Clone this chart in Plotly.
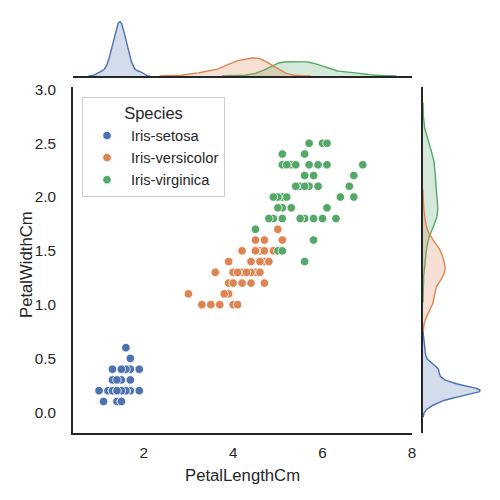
import numpy as np
import plotly.graph_objects as go

species = ["Iris-setosa", "Iris-versicolor", "Iris-virginica"]
colors = ["#4C72B0", "#DD8452", "#55A868"]
fills = ["rgba(76,114,176,0.25)", "rgba(221,132,82,0.25)", "rgba(85,168,104,0.25)"]

setosa_pl = [1.4,1.4,1.3,1.5,1.4,1.7,1.4,1.5,1.4,1.5,1.5,1.6,1.4,1.1,1.2,1.5,1.3,1.4,1.7,1.5,
             1.7,1.5,1.0,1.7,1.9,1.6,1.6,1.5,1.4,1.6,1.6,1.5,1.5,1.4,1.5,1.2,1.3,1.5,1.3,1.5,
             1.3,1.3,1.3,1.6,1.9,1.4,1.6,1.4,1.5,1.4]
setosa_pw = [0.2,0.2,0.2,0.2,0.2,0.4,0.3,0.2,0.2,0.1,0.2,0.2,0.1,0.1,0.2,0.4,0.4,0.3,0.3,0.3,
             0.2,0.4,0.2,0.5,0.2,0.2,0.4,0.2,0.2,0.2,0.2,0.4,0.1,0.2,0.1,0.2,0.2,0.1,0.2,0.2,
             0.3,0.3,0.2,0.6,0.4,0.3,0.2,0.2,0.2,0.2]
versicolor_pl = [4.7,4.5,4.9,4.0,4.6,4.5,4.7,3.3,4.6,3.9,3.5,4.2,4.0,4.7,3.6,4.4,4.5,4.1,4.5,3.9,
                 4.8,4.0,4.9,4.7,4.3,4.4,4.8,5.0,4.5,3.5,3.8,3.7,3.9,5.1,4.5,4.5,4.7,4.4,4.1,4.0,
                 4.4,4.6,4.0,3.3,4.2,4.2,4.2,4.3,3.0,4.1]
versicolor_pw = [1.4,1.5,1.5,1.3,1.5,1.3,1.6,1.0,1.3,1.4,1.0,1.5,1.0,1.4,1.3,1.4,1.5,1.0,1.5,1.1,
                 1.8,1.3,1.5,1.2,1.3,1.4,1.4,1.7,1.5,1.0,1.1,1.0,1.2,1.6,1.5,1.6,1.5,1.3,1.3,1.3,
                 1.2,1.4,1.2,1.0,1.3,1.2,1.3,1.3,1.1,1.3]
virginica_pl = [6.0,5.1,5.9,5.6,5.8,6.6,4.5,6.3,5.8,6.1,5.1,5.3,5.5,5.0,5.1,5.3,5.5,6.7,6.9,5.0,
                5.7,4.9,6.7,4.9,5.7,6.0,4.8,4.9,5.6,5.8,6.1,6.4,5.6,5.1,5.6,6.1,5.6,5.5,4.8,5.4,
                5.6,5.1,5.1,5.9,5.7,5.2,5.0,5.2,5.4,5.1]
virginica_pw = [2.5,1.9,2.1,1.8,2.2,2.1,1.7,1.8,1.8,2.5,2.0,1.9,2.1,2.0,2.4,2.3,1.8,2.2,2.3,1.5,
                2.3,2.0,2.0,1.8,2.1,1.8,1.8,1.8,2.1,1.6,1.9,2.0,2.2,1.5,1.4,2.3,2.4,1.8,1.8,2.1,
                2.4,2.3,1.9,2.3,2.5,2.3,1.9,2.0,2.3,1.8]

x_label = "PetalLengthCm"
y_label = "PetalWidthCm"
legend_title = "Species"
x_ticks = [2, 4, 6, 8]
y_ticks = [0.0, 0.5, 1.0, 1.5, 2.0, 2.5, 3.0]

pl_groups = [setosa_pl, versicolor_pl, virginica_pl]
pw_groups = [setosa_pw, versicolor_pw, virginica_pw]
n_total = sum(len(g) for g in pl_groups)


def kde(values, weight):
    v = np.asarray(values, dtype=float)
    bw = v.std(ddof=1) * len(v) ** (-0.2)
    grid = np.linspace(v.min() - 3 * bw, v.max() + 3 * bw, 200)
    dens = np.exp(-0.5 * ((grid[:, None] - v[None, :]) / bw) ** 2).sum(axis=1)
    dens = dens / (len(v) * bw * np.sqrt(2 * np.pi)) * weight
    return grid, dens


pl_kdes = [kde(g, len(g) / n_total) for g in pl_groups]
pw_kdes = [kde(g, len(g) / n_total) for g in pw_groups]

def padded(lo, hi):
    span = hi - lo
    return [lo - 0.05 * span, hi + 0.05 * span]

x_range = padded(min(k[0].min() for k in pl_kdes), max(k[0].max() for k in pl_kdes))
y_range = padded(min(k[0].min() for k in pw_kdes), max(k[0].max() for k in pw_kdes))
top_max = max(k[1].max() for k in pl_kdes) * 1.05
right_max = max(k[1].max() for k in pw_kdes) * 1.05

FONT = "Liberation Sans, Arial, sans-serif"
INK = "#262626"

fig = go.Figure()

for i in reversed(range(3)):
    g, d = pl_kdes[i]
    fig.add_trace(go.Scatter(x=g, y=d, mode="lines", fill="tozeroy", fillcolor=fills[i],
                             line=dict(color=colors[i], width=1.4), showlegend=False,
                             xaxis="x2", yaxis="y2", hoverinfo="skip"))
for i in reversed(range(3)):
    g, d = pw_kdes[i]
    fig.add_trace(go.Scatter(x=d, y=g, mode="lines", fill="tozerox", fillcolor=fills[i],
                             line=dict(color=colors[i], width=1.4), showlegend=False,
                             xaxis="x3", yaxis="y3", hoverinfo="skip"))

for i in range(3):
    fig.add_trace(go.Scatter(x=pl_groups[i], y=pw_groups[i], mode="markers", name=species[i],
                             marker=dict(color=colors[i], size=8.5,
                                         line=dict(color="white", width=0.8)),
                             xaxis="x", yaxis="y"))

main_x = [0.146, 0.824]
main_y = [0.134, 0.826]

fig.update_layout(
    width=500, height=500, autosize=False,
    margin=dict(l=0, r=0, t=0, b=0, autoexpand=False),
    paper_bgcolor="white", plot_bgcolor="white",
    font=dict(family=FONT, color=INK, size=15),
    xaxis=dict(domain=main_x, anchor="y", range=x_range, tickvals=x_ticks, automargin=False,
               showline=True, linecolor=INK, linewidth=1.7, showgrid=False, zeroline=False,
               ticks="", ticklabelstandoff=5, tickfont=dict(size=15.3)),
    yaxis=dict(domain=main_y, anchor="x", range=y_range, tickvals=y_ticks, tickformat=".1f",
               automargin=False,
               showline=True, linecolor=INK, linewidth=1.7, showgrid=False, zeroline=False,
               ticks="", ticklabelstandoff=12, tickfont=dict(size=15.3)),
    xaxis2=dict(domain=main_x, anchor="y2", matches="x", showline=True, linecolor=INK,
                automargin=False,
                linewidth=1.7, showticklabels=False, showgrid=False, zeroline=False, ticks=""),
    yaxis2=dict(domain=[0.848, 0.962], anchor="x2", range=[0, top_max], visible=False,
                automargin=False),
    xaxis3=dict(domain=[0.846, 0.966], anchor="y3", range=[0, right_max], visible=False,
                automargin=False),
    yaxis3=dict(domain=main_y, anchor="x3", matches="y", showline=True, linecolor=INK,
                automargin=False,
                linewidth=1.7, showticklabels=False, showgrid=False, zeroline=False, ticks=""),
    legend=dict(x=0.164, y=0.806, xanchor="left", yanchor="top", itemwidth=38,
                bgcolor="rgba(255,255,255,0.8)", bordercolor="#cccccc", borderwidth=1,
                font=dict(size=14.7), tracegroupgap=0,
                title=dict(text=legend_title, side="top center", font=dict(size=16.5))),
    showlegend=True,
    annotations=[
        dict(text=x_label, xref="paper", yref="paper", x=0.484, y=0.049,
             xanchor="center", yanchor="middle", showarrow=False, font=dict(size=16.7)),
        dict(text=y_label, xref="paper", yref="paper", x=0.053, y=0.471, textangle=-90,
             xanchor="center", yanchor="middle", showarrow=False, font=dict(size=16.7)),
    ],
)

fig.write_html("out.html", config={"displayModeBar": False},
               post_script="document.body.style.margin='0';")
